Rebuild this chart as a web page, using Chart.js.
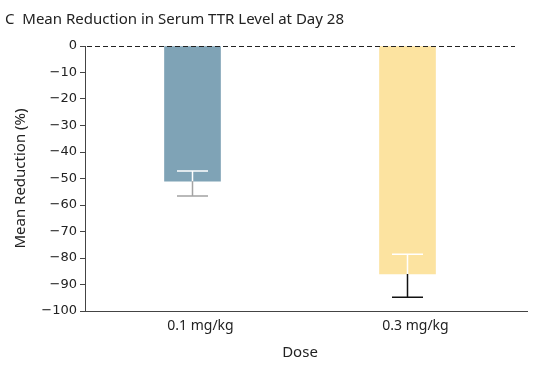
<!DOCTYPE html>
<html>
<head>
<meta charset="utf-8">
<script src="https://cdn.jsdelivr.net/npm/chart.js@4.4.1/dist/chart.umd.min.js"></script>
<style>
html,body{margin:0;padding:0;background:#fff;}
#wrap{width:536px;height:365px;position:relative;}
</style>
</head>
<body>
<div id="wrap"><canvas id="c" width="536" height="365"></canvas></div>
<script>
const categories = ['0.1 mg/kg', '0.3 mg/kg'];
const meanReduction = [-51, -86];
const errUpper = [-47.2, -78.6];
const errLower = [-56.6, -94.8];
const barColors = ['#7fa3b6', '#fce3a0'];
const errColors = ['#a3a3a3', '#111111'];
const yTickValues = [0, -10, -20, -30, -40, -50, -60, -70, -80, -90, -100];

const FONT = '"Noto Sans", Lato, sans-serif';
const TICKFONT = '"DejaVu Sans", "Noto Sans", sans-serif';

const extras = {
  id: 'extras',
  afterDatasetsDraw(chart) {
    const ctx = chart.ctx;
    const ys = chart.scales.y, xs = chart.scales.x;
    const meta = chart.getDatasetMeta(0);
    ctx.save();
    meta.data.forEach((bar, i) => {
      const x = bar.x;
      const yMean = ys.getPixelForValue(meanReduction[i]);
      const yUp = ys.getPixelForValue(errUpper[i]);
      const yLo = ys.getPixelForValue(errLower[i]);
      const cap = 15.5;
      ctx.lineWidth = 1.5;
      ctx.strokeStyle = '#ffffff';
      ctx.beginPath();
      ctx.moveTo(x, yUp); ctx.lineTo(x, yMean);
      ctx.moveTo(x - cap, yUp); ctx.lineTo(x + cap, yUp);
      ctx.stroke();
      ctx.strokeStyle = errColors[i];
      ctx.beginPath();
      ctx.moveTo(x, yMean); ctx.lineTo(x, yLo);
      ctx.moveTo(x - cap, yLo); ctx.lineTo(x + cap, yLo);
      ctx.stroke();
    });
    // dashed zero line
    const y0 = Math.round(ys.getPixelForValue(0)) + 0.5;
    ctx.strokeStyle = '#222';
    ctx.lineWidth = 1;
    ctx.setLineDash([5, 3]);
    ctx.beginPath();
    ctx.moveTo(chart.chartArea.left + 2, y0);
    ctx.lineTo(chart.chartArea.right, y0);
    ctx.stroke();
    ctx.setLineDash([]);
    // x axis extension
    const ya = Math.round(xs.top) + 0.5;
    ctx.strokeStyle = '#444';
    ctx.lineWidth = 1;
    ctx.beginPath();
    ctx.moveTo(chart.chartArea.right - 1, ya);
    ctx.lineTo(chart.chartArea.right + 13, ya);
    ctx.stroke();
    ctx.restore();
  }
};

new Chart(document.getElementById('c'), {
  type: 'bar',
  data: {
    labels: categories,
    datasets: [{
      data: meanReduction,
      backgroundColor: barColors,
      borderWidth: 0,
      barThickness: 56
    }]
  },
  options: {
    responsive: false,
    animation: false,
    devicePixelRatio: 1,
    layout: { padding: { left: 5, right: 21, top: 0, bottom: 0 } },
    plugins: {
      legend: { display: false },
      tooltip: { enabled: false },
      title: {
        display: true,
        text: 'C  Mean Reduction in Serum TTR Level at Day 28',
        align: 'start',
        color: '#222',
        font: { family: FONT, size: 15, weight: 'normal' },
        padding: { top: 11, bottom: 17 }
      }
    },
    scales: {
      x: {
        afterFit(s) { s.height = 54; },
        grid: { display: true, drawOnChartArea: false, drawTicks: false, color: 'rgba(0,0,0,0)' },
        border: { display: true, color: '#444', width: 1 },
        ticks: { color: '#222', font: { family: FONT, size: 14 }, padding: 7, labelOffset: 8 },
        title: { display: true, text: 'Dose', color: '#222', font: { family: FONT, size: 15 }, padding: { top: 0, bottom: 3 } }
      },
      y: {
        min: -100, max: 0,
        afterFit(s) { s.width = 80; },
        afterBuildTicks(s) { s.ticks = yTickValues.map(v => ({ value: v })); },
        grid: { display: true, drawOnChartArea: false, drawTicks: true, tickLength: 5, color: '#444' },
        border: { display: true, color: '#444', width: 1 },
        ticks: {
          color: '#222', font: { family: TICKFONT, size: 13 }, padding: 3,
          callback: v => (v < 0 ? '\u2212' + Math.abs(v) : String(v))
        },
        title: { display: true, text: 'Mean Reduction (%)', color: '#222', font: { family: FONT, size: 15 }, padding: { top: 7, bottom: 0 } }
      }
    }
  },
  plugins: [extras]
});
</script>
</body>
</html>
